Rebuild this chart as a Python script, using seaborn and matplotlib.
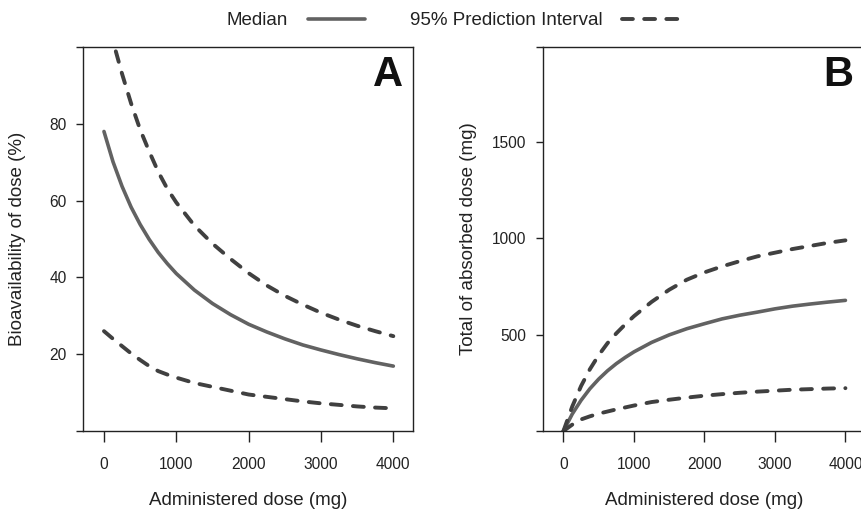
import matplotlib
matplotlib.use("Agg")
import matplotlib.pyplot as plt
import seaborn as sns
import pandas as pd
from matplotlib import font_manager
from matplotlib.lines import Line2D

# ---------------- data ----------------
dose = [0, 125, 250, 375, 500, 625, 750, 875, 1000, 1250, 1500, 1750, 2000,
        2250, 2500, 2750, 3000, 3250, 3500, 3750, 4000]

# Panel A: bioavailability of dose (%)
bio_median = [78, 70.1, 63.7, 58.3, 53.8, 49.9, 46.5, 43.6, 41.0, 36.7, 33.2, 30.3, 27.8,
              25.8, 24.0, 22.4, 21.1, 19.9, 18.8, 17.8, 16.9]
bio_upper = [110, 101.5, 93, 85.3, 78.5, 72.8, 67.5, 63.1, 59.5, 53.5, 48.8, 44.8, 41.1,
             37.9, 35.2, 32.9, 30.8, 29.0, 27.4, 26.0, 24.7]
bio_lower = [26, 24, 22.1, 20.2, 18.5, 16.9, 15.6, 14.7, 13.9, 12.5, 11.5, 10.5, 9.5,
             8.9, 8.3, 7.7, 7.2, 6.8, 6.4, 6.1, 5.9]

# Panel B: total of absorbed dose (mg)
abs_median = [0, 88, 159, 219, 269, 312, 349, 381, 410, 459, 498, 530, 556,
              581, 600, 616, 633, 647, 658, 668, 677]
abs_upper = [0, 127, 233, 320, 393, 455, 506, 552, 595, 669, 732, 784, 822,
             853, 880, 905, 924, 943, 959, 975, 988]
abs_lower = [0, 33, 60, 76, 90, 101, 112, 122, 132, 150, 162, 173, 183,
             191, 198, 204, 209, 214, 217, 220, 222]

legend_labels = ["Median", "95% Prediction Interval"]
xticks = [0, 1000, 2000, 3000, 4000]
yticks_a = [0, 20, 40, 60, 80, 100]
yticks_b = [0, 500, 1000, 1500, 1990]

# ---------------- style ----------------
sns.set_style("ticks")
names = {f.name for f in font_manager.fontManager.ttflist}
narrow = "Liberation Sans Narrow" in names
fam = "Liberation Sans Narrow" if narrow else "Liberation Sans"
plt.rcParams["font.family"] = [fam, "DejaVu Sans"]
k = 1.15 if narrow else 1.0
FS_LAB = 13.5 * k
FS_TICK = 11.2 * k
TXT = "#222222"
plt.rcParams.update({
    "text.color": TXT, "axes.labelcolor": TXT,
    "xtick.color": TXT, "ytick.color": TXT,
    "axes.edgecolor": "#222222",
})

MED = "#626262"
DASH = "#404040"
LW_MED = 2.6
LW_DASH = 2.8
DASH_STYLE = (0, (2.8, 2.9))

fig = plt.figure(figsize=(8.62, 5.13), dpi=100)
W, H = 862.0, 513.0
axA = fig.add_axes([83 / W, 82 / H, 330 / W, 384 / H])
axB = fig.add_axes([543 / W, 82 / H, 321.6 / W, 384 / H])

dfA = pd.DataFrame({"dose": dose, "median": bio_median, "upper": bio_upper, "lower": bio_lower})
dfB = pd.DataFrame({"dose": dose, "median": abs_median, "upper": abs_upper, "lower": abs_lower})

for ax, df in [(axA, dfA), (axB, dfB)]:
    sns.lineplot(data=df, x="dose", y="median", ax=ax, color=MED, linewidth=LW_MED,
                 estimator=None, sort=False)
    ax.lines[-1].set_solid_capstyle("round")
    ax.lines[-1].set_solid_joinstyle("round")
    for col in ["upper", "lower"]:
        sns.lineplot(data=df, x="dose", y=col, ax=ax, color=DASH, linewidth=LW_DASH,
                     linestyle=DASH_STYLE, estimator=None, sort=False)
        ax.lines[-1].set_dash_capstyle("round")
    ax.set_xlim(-290, 4272)
    ax.set_xticks(xticks)
    ax.set_xticklabels([str(t) for t in xticks])
    ax.tick_params(axis="x", length=8, width=1.0, pad=10.5, labelsize=FS_TICK)
    ax.tick_params(axis="y", length=5.3, width=1.0, pad=6.5, labelsize=FS_TICK)
    for s in ax.spines.values():
        s.set_linewidth(1.0)
        s.set_visible(True)
    ax.set_xlabel("Administered dose (mg)", fontsize=FS_LAB)
    ax.xaxis.set_label_coords(0.5, -0.160)

axA.set_ylim(0, 100)
axA.set_yticks(yticks_a)
axA.set_yticklabels([""] + [str(t) for t in yticks_a[1:-1]] + [""])
axA.set_ylabel("Bioavailability of dose (%)", fontsize=FS_LAB)
axA.yaxis.set_label_coords(-0.173, 0.5)

axB.set_ylim(0, 1990)
axB.set_yticks(yticks_b)
axB.set_yticklabels([""] + [str(t) for t in yticks_b[1:-1]] + [""])
axB.set_ylabel("Total of absorbed dose (mg)", fontsize=FS_LAB)
axB.yaxis.set_label_coords(-0.205, 0.5)

for ax, letter, dx in [(axA, "A", -7.2), (axB, "B", -8.3)]:
    ax.annotate(letter, xy=(1, 1), xycoords="axes fraction", xytext=(dx, -5.8),
                textcoords="offset points", ha="right", va="top",
                fontsize=30, fontweight="bold", color="#111111")

handles = [
    Line2D([], [], color=MED, lw=LW_MED, solid_capstyle="round"),
    Line2D([], [], color=DASH, lw=LW_DASH, linestyle=DASH_STYLE, dash_capstyle="round"),
]
fig.legend(handles, legend_labels, ncol=2, loc="center left",
           bbox_to_anchor=(227 / W, 1 - 20.5 / H), frameon=False, markerfirst=False,
           handlelength=3.0, handletextpad=1.07, columnspacing=2.4, fontsize=FS_LAB,
           borderpad=0, borderaxespad=0)

fig.savefig("out.png", dpi=100)
